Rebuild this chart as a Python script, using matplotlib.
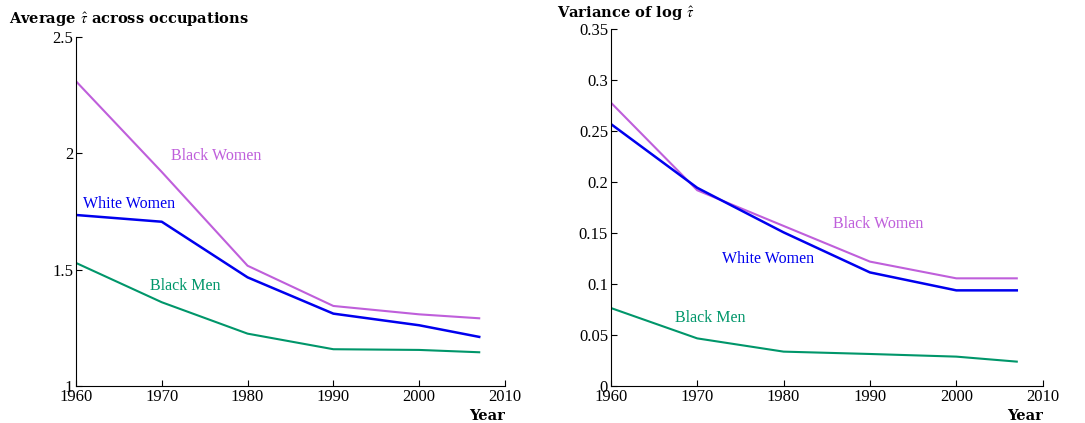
import matplotlib.pyplot as plt

plt.rcParams['font.family'] = 'Liberation Serif'
plt.rcParams['mathtext.fontset'] = 'stix'

years = [1960, 1970, 1980, 1990, 2000, 2007]

# average tau-hat across occupations
avg_black_women = [2.31, 1.92, 1.517, 1.344, 1.308, 1.291]
avg_white_women = [1.735, 1.706, 1.467, 1.311, 1.261, 1.211]
avg_black_men = [1.529, 1.36, 1.225, 1.158, 1.155, 1.145]

# variance of log tau-hat
var_black_women = [0.278, 0.192, 0.157, 0.122, 0.1056, 0.1056]
var_white_women = [0.257, 0.1944, 0.1507, 0.1114, 0.0938, 0.0938]
var_black_men = [0.0765, 0.0467, 0.0337, 0.0314, 0.0288, 0.0239]

c_bw = '#bf5fdb'
c_ww = '#0000ee'
c_bm = '#00966a'

fig = plt.figure(figsize=(10.85, 4.23), dpi=100)
ax1 = fig.add_axes([0.070, 0.0875, 0.3954, 0.825])
ax2 = fig.add_axes([0.563, 0.0875, 0.398, 0.8435])


def style(ax):
    ax.spines['top'].set_visible(False)
    ax.spines['right'].set_visible(False)
    ax.tick_params(direction='in', length=4, labelsize=12, pad=2)
    ax.set_xlim(1960, 2010)
    ax.set_xticks([1960, 1970, 1980, 1990, 2000, 2010])
    ax.text(1.0, -0.065, 'Year', transform=ax.transAxes, ha='right', va='top',
            fontsize=10.5, fontweight='bold', family='DejaVu Serif')


ax1.plot(years, avg_black_women, color=c_bw, lw=1.5)
ax1.plot(years, avg_white_women, color=c_ww, lw=1.8)
ax1.plot(years, avg_black_men, color=c_bm, lw=1.5)
ax1.set_ylim(1, 2.5)
ax1.set_yticks([1, 1.5, 2, 2.5])
ax1.set_yticklabels(['1', '1.5', '2', '2.5'])
style(ax1)
ax1.text(1976.4, 1.988, 'Black Women', color=c_bw, ha='center', va='center', fontsize=11.5)
ax1.text(1966.2, 1.782, 'White Women', color=c_ww, ha='center', va='center', fontsize=11.5)
ax1.text(1972.7, 1.43, 'Black Men', color=c_bm, ha='center', va='center', fontsize=11.5)
fig.text(0.008, 0.952, r'Average $\hat{\tau}$ across occupations', fontsize=10.5,
         fontweight='bold', family='DejaVu Serif', ha='left', va='center')

ax2.plot(years, var_black_women, color=c_bw, lw=1.5)
ax2.plot(years, var_white_women, color=c_ww, lw=1.8)
ax2.plot(years, var_black_men, color=c_bm, lw=1.5)
ax2.set_ylim(0, 0.35)
ax2.set_yticks([0, 0.05, 0.1, 0.15, 0.2, 0.25, 0.3, 0.35])
ax2.set_yticklabels(['0', '0.05', '0.1', '0.15', '0.2', '0.25', '0.3', '0.35'])
style(ax2)
ax2.text(1990.9, 0.159, 'Black Women', color=c_bw, ha='center', va='center', fontsize=11.5)
ax2.text(1978.2, 0.1245, 'White Women', color=c_ww, ha='center', va='center', fontsize=11.5)
ax2.text(1971.5, 0.0667, 'Black Men', color=c_bm, ha='center', va='center', fontsize=11.5)
fig.text(0.513, 0.968, r'Variance of log $\hat{\tau}$', fontsize=10.5,
         fontweight='bold', family='DejaVu Serif', ha='left', va='center')

fig.savefig('out.png', dpi=100)
